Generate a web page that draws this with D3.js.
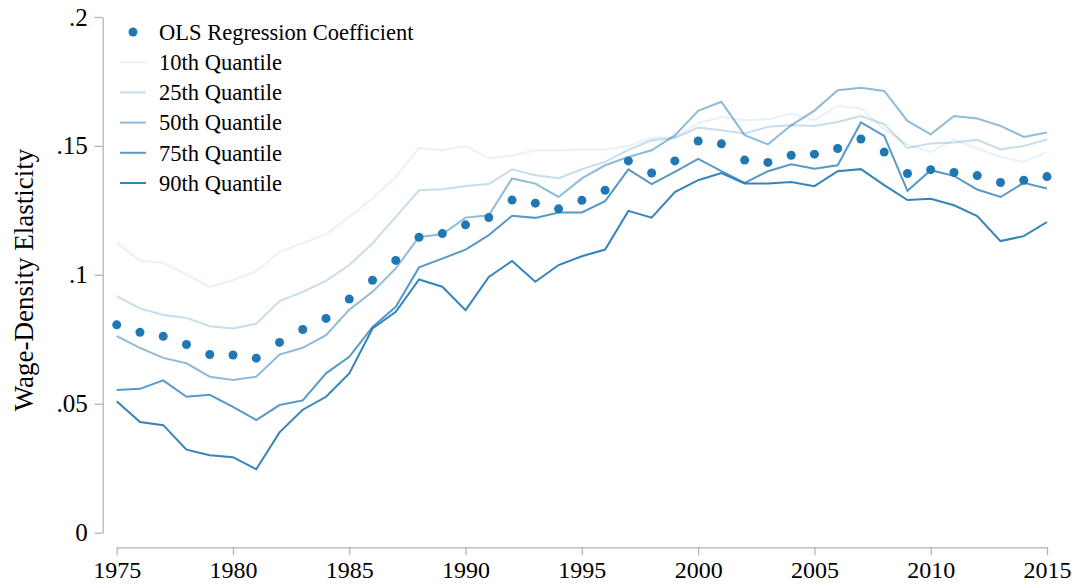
<!DOCTYPE html>
<html lang="en">
<head>
    <meta charset="UTF-8">
    <title>Wage-Density Elasticity</title>
    <script src="https://d3js.org/d3.v7.min.js"></script>
    <style>
        body {
            margin: 0;
            padding: 0;
            background: #fff;
        }
        svg text {
            font-family: "Liberation Serif", "Times New Roman", serif;
            fill: #000;
        }
        .axis path, .axis line {
            stroke: #b4b4b4;
            stroke-width: 1.3px;
        }
    </style>
</head>
<body>
    <svg width="1080" height="585"></svg>
    <script>
        // Years on the x axis
        const years = d3.range(1975, 2016);

        // OLS coefficients (dots)
        const ols = [0.0806, 0.0777, 0.0762, 0.0730, 0.0691, 0.0689, 0.0677, 0.0738, 0.0788, 0.0831,
            0.0906, 0.0979, 0.1056, 0.1146, 0.1160, 0.1194, 0.1222, 0.1290, 0.1278, 0.1256,
            0.1289, 0.1328, 0.1442, 0.1395, 0.1442, 0.1519, 0.1508, 0.1445, 0.1436, 0.1464,
            0.1468, 0.1490, 0.1527, 0.1476, 0.1393, 0.1408, 0.1397, 0.1385, 0.1358, 0.1367, 0.1381];

        const q10 = [0.1124, 0.1056, 0.1047, 0.1002, 0.0953, 0.0979, 0.1014, 0.1089, 0.1122, 0.1158,
            0.1225, 0.1296, 0.1380, 0.1492, 0.1483, 0.1500, 0.1452, 0.1463, 0.1483, 0.1483,
            0.1486, 0.1486, 0.1500, 0.1531, 0.1535, 0.1587, 0.1612, 0.1600, 0.1603, 0.1626,
            0.1600, 0.1655, 0.1645, 0.1565, 0.1505, 0.1477, 0.1525, 0.1490, 0.1457, 0.1438, 0.1477];

        const q25 = [0.0917, 0.0870, 0.0844, 0.0833, 0.0801, 0.0792, 0.0810, 0.0898, 0.0934, 0.0977,
            0.1038, 0.1122, 0.1225, 0.1328, 0.1332, 0.1345, 0.1352, 0.1409, 0.1386, 0.1375,
            0.1410, 0.1438, 0.1485, 0.1522, 0.1531, 0.1571, 0.1561, 0.1548, 0.1574, 0.1580,
            0.1577, 0.1593, 0.1616, 0.1585, 0.1492, 0.1509, 0.1513, 0.1524, 0.1486, 0.1500, 0.1525];

        const q50 = [0.0762, 0.0717, 0.0678, 0.0657, 0.0605, 0.0592, 0.0605, 0.0691, 0.0717, 0.0766,
            0.0865, 0.0934, 0.1025, 0.1147, 0.1157, 0.1222, 0.1231, 0.1374, 0.1354, 0.1302,
            0.1374, 0.1425, 0.1457, 0.1483, 0.1541, 0.1636, 0.1671, 0.1542, 0.1506, 0.1580,
            0.1637, 0.1716, 0.1726, 0.1713, 0.1597, 0.1545, 0.1616, 0.1606, 0.1578, 0.1535, 0.1552];

        const q75 = [0.0553, 0.0558, 0.0591, 0.0527, 0.0535, 0.0488, 0.0437, 0.0495, 0.0513, 0.0618,
            0.0682, 0.0798, 0.0876, 0.1029, 0.1063, 0.1098, 0.1154, 0.1229, 0.1221, 0.1242,
            0.1242, 0.1286, 0.1409, 0.1352, 0.1399, 0.1450, 0.1402, 0.1357, 0.1402, 0.1429,
            0.1412, 0.1425, 0.1591, 0.1539, 0.1326, 0.1406, 0.1384, 0.1331, 0.1302, 0.1357, 0.1335];

        const q90 = [0.0510, 0.0429, 0.0417, 0.0322, 0.0300, 0.0293, 0.0246, 0.0389, 0.0477, 0.0527,
            0.0618, 0.0792, 0.0857, 0.0982, 0.0954, 0.0863, 0.0992, 0.1054, 0.0973, 0.1038,
            0.1072, 0.1098, 0.1248, 0.1222, 0.1321, 0.1367, 0.1395, 0.1354, 0.1354, 0.1360,
            0.1344, 0.1402, 0.1410, 0.1348, 0.1290, 0.1295, 0.1270, 0.1228, 0.1131, 0.1150, 0.1205];

        const quantileNames = ["10th Quantile", "25th Quantile", "50th Quantile", "75th Quantile", "90th Quantile"];
        const quantileAlpha = [0.1, 0.25, 0.5, 0.75, 0.9];
        const quantileValues = [q10, q25, q50, q75, q90];

        const yTicks = [0, 0.05, 0.1, 0.15, 0.2];
        const yTickLabels = ["0", ".05", ".1", ".15", ".2"];
        const xTicks = d3.range(1975, 2016, 5);

        const blue = "#1f77b4";

        const svg = d3.select("svg");

        const x = d3.scaleLinear().domain([1975, 2015]).range([116.7, 1047]);
        const y = d3.scaleLinear().domain([0, 0.2]).range([532.7, 17]);

        // axes
        const yAxis = svg.append("g")
            .attr("class", "axis")
            .attr("transform", "translate(102.7,0)")
            .call(d3.axisLeft(y)
                .tickValues(yTicks)
                .tickFormat((d, i) => yTickLabels[i])
                .tickSize(8)
                .tickSizeOuter(0)
                .tickPadding(7));
        yAxis.selectAll("text")
            .style("font-size", "25px")
            .style("font-family", "Liberation Serif, serif");

        const xAxis = svg.append("g")
            .attr("class", "axis")
            .attr("transform", "translate(0,547.3)")
            .call(d3.axisBottom(x)
                .tickValues(xTicks)
                .tickFormat(d3.format("d"))
                .tickSize(8)
                .tickSizeOuter(0)
                .tickPadding(6));
        xAxis.selectAll("text")
            .style("font-size", "24px")
            .style("font-family", "Liberation Serif, serif");

        // y axis title
        svg.append("text")
            .attr("transform", "translate(33,280) rotate(-90)")
            .attr("text-anchor", "middle")
            .style("font-size", "27px")
            .text("Wage-Density Elasticity");

        // quantile lines
        const line = d3.line()
            .x((d, i) => x(years[i]))
            .y(d => y(d));

        svg.append("g")
            .selectAll("path")
            .data(quantileValues)
            .join("path")
            .attr("d", line)
            .attr("fill", "none")
            .attr("stroke", blue)
            .attr("stroke-opacity", (d, i) => quantileAlpha[i])
            .attr("stroke-width", 2);

        // OLS dots
        svg.append("g")
            .selectAll("circle")
            .data(ols)
            .join("circle")
            .attr("cx", (d, i) => x(years[i]))
            .attr("cy", d => y(d))
            .attr("r", 4.5)
            .attr("fill", blue);

        // legend
        const legend = svg.append("g");
        const rowY = i => 32 + i * 30.2;

        legend.append("circle")
            .attr("cx", 133)
            .attr("cy", rowY(0))
            .attr("r", 4.5)
            .attr("fill", blue);
        legend.append("text")
            .attr("x", 159)
            .attr("y", rowY(0))
            .attr("dy", "0.35em")
            .style("font-size", "22.5px")
            .text("OLS Regression Coefficient");

        quantileNames.forEach((name, i) => {
            legend.append("line")
                .attr("x1", 120).attr("x2", 146)
                .attr("y1", rowY(i + 1)).attr("y2", rowY(i + 1))
                .attr("stroke", blue)
                .attr("stroke-opacity", quantileAlpha[i])
                .attr("stroke-width", 2);
            legend.append("text")
                .attr("x", 159)
                .attr("y", rowY(i + 1))
                .attr("dy", "0.35em")
                .style("font-size", "22.5px")
                .text(name);
        });
    </script>
</body>
</html>
